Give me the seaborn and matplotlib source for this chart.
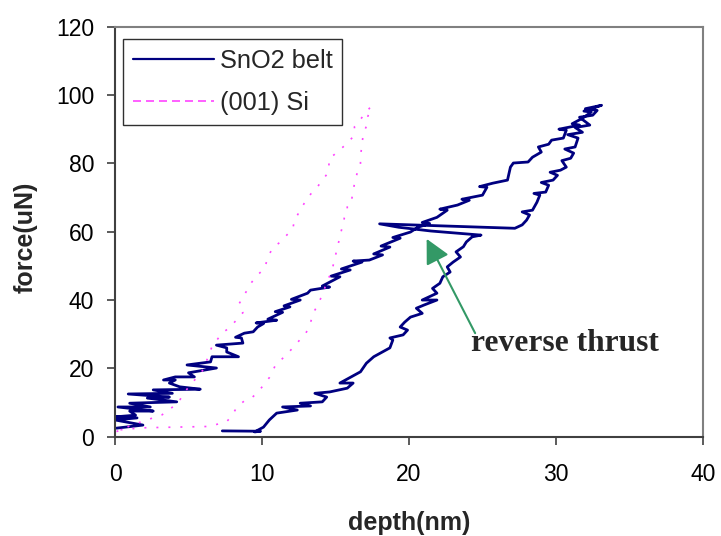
import matplotlib
matplotlib.use("Agg")
import matplotlib.pyplot as plt
import pandas as pd
import seaborn as sns
from matplotlib.lines import Line2D

# ---------------- data ----------------
sno2_load_depth = [0.1, 1.9, 0.0, 1.5, 0.0, 1.4, 1.0, 2.6, 0.2, 2.4, 1.0, 4.2, 2.2, 3.7, 0.9, 3.9,
                   2.6, 5.8, 4.4, 3.7, 4.1, 3.3, 4.1, 5.4, 5.0, 6.9, 4.9, 6.5, 6.6, 8.4, 7.6, 7.6,
                   6.9, 8.7, 8.6, 8.2, 8.8, 9.4, 9.7, 10.1, 9.6, 11.0, 10.4, 11.4, 10.9, 11.9, 11.5,
                   12.6, 12.0, 13.1, 13.3, 14.6, 14.1, 15.3, 14.7, 16.0, 15.4, 16.8, 16.2, 17.3,
                   18.2, 17.6, 18.7, 18.1, 19.4, 18.9, 20.1, 20.6, 21.4, 20.9, 21.9, 22.6, 22.1,
                   23.3, 24.1, 23.6, 25.0, 25.3, 24.8, 25.7, 26.7, 26.9, 27.1, 28.1, 28.4, 29.0,
                   28.8, 29.5, 29.7, 30.5, 30.7, 30.2, 31.6, 31.1, 31.8, 32.4, 31.9, 33.1]
sno2_load_force = [2.5, 3.4, 4.9, 5.5, 5.8, 6.3, 7.5, 7.5, 8.7, 8.7, 9.8, 10.2, 11.3, 11.6, 12.5, 12.7,
                   13.7, 13.9, 14.6, 15.7, 16.6, 16.6, 17.5, 17.5, 18.7, 20.1, 21.0, 21.9, 23.4, 23.4, 24.8, 26.0,
                   26.8, 27.4, 28.9, 29.1, 30.3, 30.7, 32.1, 33.1, 33.3, 34.1, 34.4, 36.4, 36.6, 38.0, 38.3,
                   40.0, 40.2, 42.0, 42.9, 43.8, 44.1, 46.8, 47.0, 48.8, 49.1, 51.1, 51.4, 51.7,
                   53.2, 53.5, 55.5, 55.8, 58.1, 58.3, 59.9, 61.3, 62.4, 62.7, 64.2, 66.3, 66.6,
                   67.8, 69.2, 69.5, 70.7, 73.0, 73.2, 74.2, 75.1, 78.9, 80.1, 80.4, 81.8, 83.3,
                   84.8, 85.6, 86.8, 87.4, 89.7, 90.0, 91.2, 91.6, 93.2, 95.0, 95.3, 97.0]

sno2_unload_depth = [33.1, 32.0, 32.8, 32.5, 31.6, 32.3, 31.3, 31.8, 30.8, 31.5, 31.3, 30.6, 31.2, 31.0,
                     30.4, 30.7, 30.3, 29.6, 30.1, 29.8, 29.0, 29.5, 29.3, 28.5, 28.9, 28.7, 28.4, 27.7,
                     28.2, 28.0, 27.7, 27.2, 18.0, 19.3, 21.5, 24.9, 24.3, 23.9, 23.7, 23.2, 23.5, 23.0,
                     22.6, 22.8, 22.3, 22.1, 21.6, 21.9, 20.9, 21.9, 21.0, 20.5, 20.9, 20.1, 19.7, 19.4,
                     19.9, 19.6, 18.7, 18.9, 18.7, 17.6, 17.1, 16.7, 15.3, 16.2, 15.8, 14.6, 13.6, 14.4,
                     14.1, 12.6, 13.3, 11.4, 12.4, 11.0, 10.5, 10.1, 9.5, 9.9, 7.3]
sno2_unload_force = [97.0, 96.0, 95.5, 94.1, 93.5, 91.2, 90.5, 89.1, 88.4, 87.4, 84.8, 84.2, 83.0, 81.5,
                     80.8, 78.9, 78.0, 77.4, 76.5, 75.1, 74.4, 73.6, 71.6, 71.2, 70.7, 68.6, 66.3, 65.8,
                     64.9, 63.4, 62.0, 61.0, 62.3, 61.3, 60.2, 59.0, 58.5, 57.0, 55.6, 54.1, 52.6, 51.1,
                     49.7, 48.2, 46.8, 44.9, 43.4, 42.0, 40.0, 40.0, 38.5, 37.6, 36.1, 35.0, 33.5, 32.1,
                     31.2, 29.8, 28.9, 28.3, 26.0, 23.4, 21.5, 19.0, 15.7, 15.7, 14.2, 13.1, 12.7, 11.6,
                     10.2, 9.8, 9.0, 8.7, 7.8, 6.9, 4.9, 2.8, 1.4, 1.6, 1.7]

si_depth = [0.1, 1.2, 3.2, 4.3, 4.7, 6.0, 6.6, 7.3, 7.8, 8.7, 8.4, 9.3, 9.6, 10.2, 10.4, 10.8, 11.2,
            12.1, 12.2, 13.1, 13.8, 14.5, 14.6, 14.9, 15.7, 16.2, 16.3, 17.4,
            17.2, 17.1, 16.9, 16.7, 16.7, 16.5, 16.3, 16.1, 15.8, 15.8, 15.6, 14.8, 14.6, 14.4,
            14.2, 13.8, 13.5, 13.3, 13.0, 11.8, 10.9, 10.5, 9.7, 9.3, 8.9, 8.3, 8.0, 7.6, 6.4,
            1.8, 0.3]
si_force = [1.5, 3.5, 6.4, 9.9, 12.9, 19.6, 26.4, 30.4, 31.9, 36.3, 38.6, 45.2, 46.9, 49.4, 52.8, 55.6, 56.8,
            60.9, 63.3, 70.0, 73.3, 77.3, 81.7, 82.5, 85.5, 87.8, 90.8, 96.6,
            93.7, 90.8, 89.0, 82.0, 79.6, 77.6, 74.3, 69.4, 68.5, 65.6, 64.0, 49.4, 47.0, 45.5,
            42.5, 38.6, 36.3, 33.4, 30.4, 24.6, 20.8, 17.3, 12.9, 11.4, 10.8, 8.8, 6.4, 4.4, 3.0,
            2.6, 2.0]

series_labels = ["SnO2 belt", "(001) Si"]
x_ticks = [0, 10, 20, 30, 40]
y_ticks = [0, 20, 40, 60, 80, 100, 120]
annot_text = "reverse thrust"
annot_tip = (21.2, 57.9)
annot_tail = (24.5, 30.3)
annot_text_pos = (24.2, 25.1)

sno2 = pd.DataFrame({"depth": sno2_load_depth + sno2_unload_depth,
                     "force": sno2_load_force + sno2_unload_force})
si = pd.DataFrame({"depth": si_depth, "force": si_force})

# ---------------- style ----------------
sns.set_style("ticks")
plt.rcParams["font.family"] = ["Liberation Sans", "DejaVu Sans"]

NAVY = "#000080"
PINK = "#FF44FF"
GREEN = "#339966"

fig = plt.figure(figsize=(7.21, 5.36), dpi=100)
W, H = 721, 536
L, R, T, B = 115, 703, 26.7, 436.7
ax = fig.add_axes([L / W, 1 - B / H, (R - L) / W, (B - T) / H])

sns.lineplot(data=sno2, x="depth", y="force", sort=False, estimator=None,
             color=NAVY, lw=2.0, ax=ax)
sns.lineplot(data=si, x="depth", y="force", sort=False, estimator=None,
             color=PINK, lw=1.2, linestyle=(0, (1.2, 6)), ax=ax)

ax.set_xlim(0, 40)
ax.set_ylim(0, 120)
ax.set_xticks(x_ticks)
ax.set_yticks(y_ticks)

for side in ["left", "bottom"]:
    ax.spines[side].set_color("#404040")
    ax.spines[side].set_linewidth(1.5)
for side in ["top", "right"]:
    ax.spines[side].set_visible(True)
    ax.spines[side].set_color("#808080")
    ax.spines[side].set_linewidth(1.5)

ax.tick_params(axis="both", direction="out", length=6, width=1.2, color="#404040",
               labelsize=16.5, labelcolor="black")
ax.tick_params(axis="x", pad=13)
ax.tick_params(axis="y", pad=9)

ax.set_xlabel("depth(nm)", fontsize=18, fontweight="bold")
ax.set_ylabel("force(uN)", fontsize=18, fontweight="bold")
ax.xaxis.set_label_coords(0.5, -(511 - B) / (B - T))
ax.yaxis.set_label_coords((38 - L) / (R - L), 1 - (237.5 - T) / (B - T))

handles = [Line2D([], [], color=NAVY, lw=1.6),
           Line2D([], [], color=PINK, lw=1.2, linestyle=(0, (4.8, 3)))]
leg = ax.legend(handles, series_labels, loc="upper left",
                bbox_to_anchor=((123 - L) / (R - L), 1 - (39 - T) / (B - T)),
                borderaxespad=0, fontsize=18.3, frameon=True, fancybox=False,
                edgecolor="#303030", framealpha=1, handlelength=3.2,
                handletextpad=0.22, borderpad=0.38, labelspacing=0.72)
leg.get_frame().set_linewidth(1.0)

ax.annotate("", xy=annot_tip, xytext=annot_tail,
            arrowprops=dict(arrowstyle="-|>,head_length=0.55,head_width=0.28",
                            color=GREEN, lw=1.5, mutation_scale=27,
                            shrinkA=0, shrinkB=0))
ax.text(annot_text_pos[0], annot_text_pos[1], annot_text,
        family=["Liberation Serif", "DejaVu Serif"], fontweight="bold",
        fontsize=22.7, ha="left", va="baseline")

fig.savefig("out.png", dpi=100)
